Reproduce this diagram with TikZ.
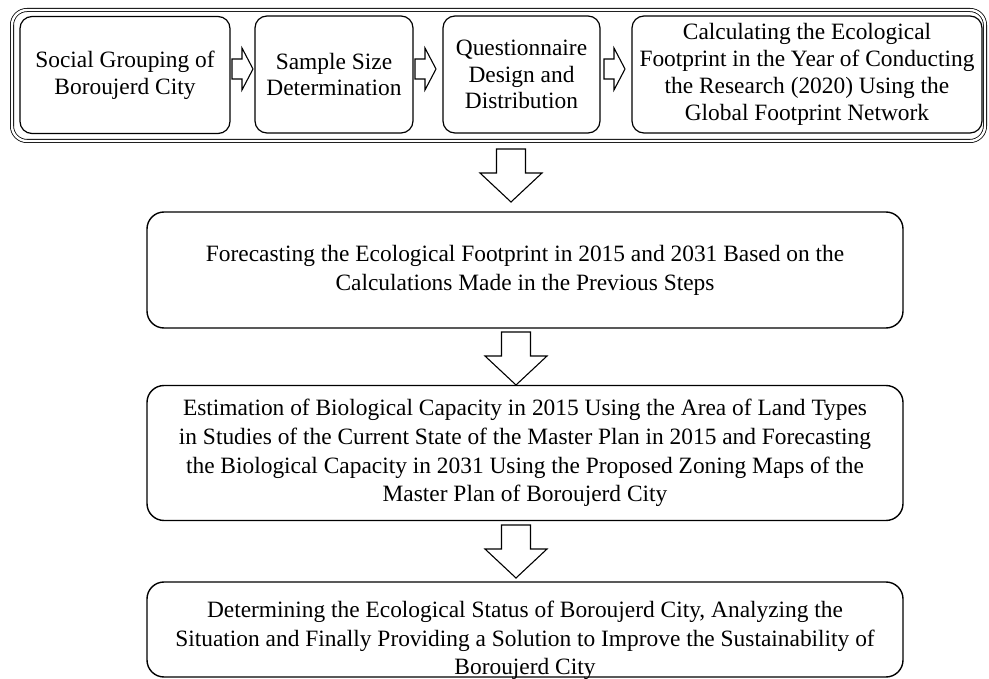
\documentclass[tikz,border=0pt]{standalone}
\usepackage{fontspec}
\setmainfont{Liberation Serif}

\newcommand{\rightblock}[1]{\draw[blockarrow, shift={(#1)}] (0,-10) -- (10,-10) -- (10,-21) -- (21,0) -- (10,21) -- (10,10) -- (0,10) -- cycle;}
\newcommand{\downblock}[1]{\draw[blockarrow, shift={(#1)}] (-14.5,0) -- (14.5,0) -- (14.5,24) -- (31,24) -- (0,53) -- (-31,24) -- (-14.5,24) -- cycle;}

\begin{document}
\begin{tikzpicture}[x=1pt, y=-1pt,
    stepbox/.style={draw, line width=1.2pt, rounded corners=12pt, align=center, inner sep=0pt,
      minimum height=117pt, font=\fontsize{23.4}{26.8}\selectfont},
    widebox/.style={draw, line width=1.4pt, rounded corners=17pt, align=center, inner sep=0pt,
      minimum width=756pt, font=\fontsize{23.4}{28.8}\selectfont},
    blockarrow/.style={draw, line width=1.1pt, fill=white, line join=miter}]
    \useasboundingbox (0,0) rectangle (989,679);
    \node[draw, double, double distance=2.4pt, line width=0.8pt, rounded corners=15pt,
      minimum width=973pt, minimum height=131pt] (frame) at (498.5,75.5) {};
    \node[stepbox, minimum width=210pt] (social) at (125,75) {Social Grouping of\\Boroujerd City};
    \node[stepbox, minimum width=158pt] (sample) at (334,74.5) {Sample Size\\Determination};
    \node[stepbox, minimum width=157pt] (quest) at (521.5,74.5) {Questionnaire\\Design and\\Distribution};
    \node[stepbox, minimum width=350pt] (calc) at (807,74.5) {Calculating the Ecological\\Footprint in the Year of Conducting\\the Research (2020) Using the\\Global Footprint Network};
    \node[widebox, minimum height=116pt] (forecast) at (525,270) {Forecasting the Ecological Footprint in 2015 and 2031 Based on the\\Calculations Made in the Previous Steps};
    \node[widebox, minimum height=135pt] (biocap) at (525,453) {Estimation of Biological Capacity in 2015 Using the Area of Land Types\\in Studies of the Current State of the Master Plan in 2015 and Forecasting\\the Biological Capacity in 2031 Using the Proposed Zoning Maps of the\\Master Plan of Boroujerd City};
    \node[widebox, minimum height=95pt] (status) at (525,629.5) {};
    \node[align=center, inner sep=0pt, font=\fontsize{23.4}{28.4}\selectfont] (statustext) at ([yshift=-11pt]status.center) {Determining the Ecological Status of Boroujerd City, Analyzing the\\Situation and Finally Providing a Solution to Improve the Sustainability of\\Boroujerd City};
    \coordinate (h1) at (232,69);
    \coordinate (h2) at (415,69);
    \coordinate (h3) at (604,69);
    \coordinate (d1) at (511,149);
    \coordinate (d2) at (516,332);
    \coordinate (d3) at (516,525);
    \rightblock{h1}
    \rightblock{h2}
    \rightblock{h3}
    \downblock{d1}
    \downblock{d2}
    \downblock{d3}
\end{tikzpicture}
\end{document}
